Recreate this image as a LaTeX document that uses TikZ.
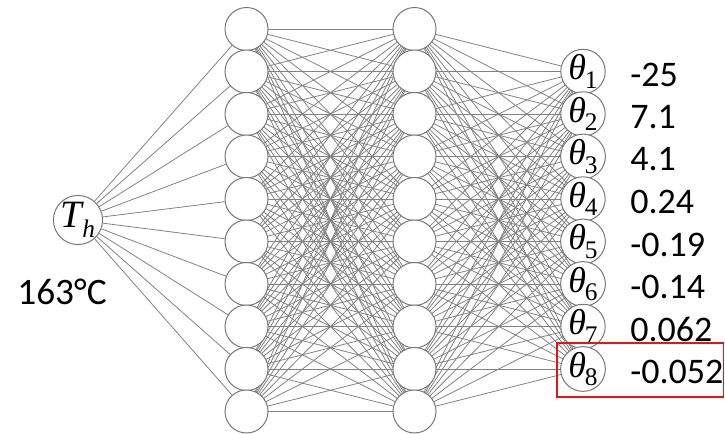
\documentclass[tikz,border=0pt]{standalone}
\usepackage{fontspec}
\setmainfont{Carlito}
\newfontfamily\symserif{Liberation Serif}
\usetikzlibrary{backgrounds}
\definecolor{nodegray}{RGB}{120,120,120}
\definecolor{linegray}{RGB}{130,130,130}
\definecolor{boxred}{RGB}{230,20,20}
\newcommand{\thetalab}[1]{{\symserif\fontsize{27}{27}\selectfont\itshape θ}\kern-1pt\raisebox{-6.5pt}{\symserif\fontsize{19}{19}\selectfont #1}}
\begin{document}
\begin{tikzpicture}[x=0.75pt,y=-0.75pt,
  neuron/.style={circle,draw=nodegray,line width=0.75pt,fill=white,minimum size=32.25pt,inner sep=0pt},
  conn/.style={draw=linegray,line width=0.6pt},
  val/.style={anchor=west,font=\fontsize{27}{27}\selectfont,inner sep=0pt}]
\useasboundingbox (0,0) rectangle (725,434);
% input
\node[neuron] (in) at (78,220) {{\symserif\fontsize{29}{29}\selectfont\itshape T}\raisebox{-7.5pt}{\symserif\fontsize{19}{19}\selectfont\itshape h}};
% hidden layers
\foreach \i in {1,...,10}{
  \node[neuron] (a\i) at (246.5,{29+(\i-1)*42.5}) {};
  \node[neuron] (b\i) at (414.5,{29+(\i-1)*42.5}) {};
}
% outputs
\foreach \k in {1,...,8}{
  \node[neuron] (o\k) at (583,{29+\k*42.5}) {\thetalab{\k}};
}
% connections
\begin{scope}[on background layer]
\foreach \i in {1,...,10}{
  \draw[conn] (in) -- (a\i);
  \foreach \j in {1,...,10}{
    \draw[conn] (a\i.center) -- (b\j.center);
  }
  \foreach \k in {1,...,8}{
    \draw[conn] (b\i.center) -- (o\k.center);
  }
}
\end{scope}
% values
\node[val] (v1) at (630,{74.5+0*42.5}) {-25};
\node[val] (v2) at (630,{74.5+1*42.5}) {7.1};
\node[val] (v3) at (630,{74.5+2*42.5}) {4.1};
\node[val] (v4) at (630,{74.5+3*42.5}) {0.24};
\node[val] (v5) at (630,{74.5+4*42.5}) {-0.19};
\node[val] (v6) at (630,{74.5+5*42.5}) {-0.14};
\node[val] (v7) at (630,{74.5+6*42.5}) {0.062};
\node[val] (v8) at (630,{74.5+7*42.5}) {-0.052};
\node[font=\fontsize{28}{28}\selectfont,inner sep=0pt] (temp) at (62,292) {163°C};
% highlight box
\draw[boxred,line width=1.4pt] (557,343) rectangle (723.5,397);
\end{tikzpicture}
\end{document}
